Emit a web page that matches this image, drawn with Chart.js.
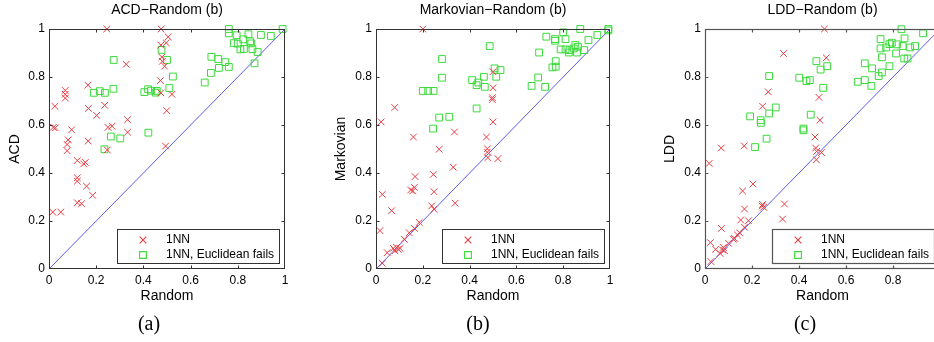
<!DOCTYPE html>
<html>
<head>
<meta charset="utf-8">
<script src="https://cdn.jsdelivr.net/npm/chart.js@4/dist/chart.umd.min.js"></script>
<style>
html,body{margin:0;padding:0;background:#fff;overflow:hidden;width:934px;height:342px;position:relative}
canvas{position:absolute;top:0}
</style>
</head>
<body>
<canvas id="ca" width="320" height="342" style="left:0px;width:320px;height:342px"></canvas>
<canvas id="cb" width="310" height="342" style="left:320px;width:310px;height:342px"></canvas>
<canvas id="cc" width="320" height="342" style="left:630px;width:320px;height:342px"></canvas>
<script>
// ---------- data ----------
const tickValues = [0, 0.2, 0.4, 0.6, 0.8, 1];
const tickLabels = ['0', '0.2', '0.4', '0.6', '0.8', '1'];
const seriesNames = ['1NN', '1NN, Euclidean fails'];
const xAxisTitle = 'Random';
const panelTitles = ['ACD\u2212Random (b)', 'Markovian\u2212Random (b)', 'LDD\u2212Random (b)'];
const yAxisTitles = ['ACD', 'Markovian', 'LDD'];
const captions = ['(a)', '(b)', '(c)'];
const diagonal = [[0, 0], [1, 1]];

const acd1NN = [[0.245,1.0],[0.475,1.0],[0.505,0.967],[0.497,0.942],[0.474,0.933],[0.478,0.883],[0.48,0.865],[0.49,0.845],[0.327,0.853],[0.472,0.785],[0.165,0.766],[0.069,0.744],[0.069,0.728],[0.069,0.712],[0.025,0.678],[0.167,0.669],[0.236,0.682],[0.202,0.64],[0.474,0.734],[0.521,0.728],[0.499,0.66],[0.333,0.622],[0.018,0.59],[0.027,0.588],[0.25,0.59],[0.267,0.595],[0.096,0.58],[0.333,0.57],[0.081,0.538],[0.077,0.519],[0.077,0.493],[0.166,0.533],[0.494,0.512],[0.247,0.496],[0.12,0.452],[0.147,0.438],[0.154,0.444],[0.12,0.38],[0.12,0.366],[0.159,0.345],[0.185,0.307],[0.12,0.276],[0.138,0.272],[0.016,0.237],[0.05,0.237]];
const acdEuclidFails = [[0.762,1.0],[0.762,0.982],[0.795,0.974],[0.845,0.978],[0.898,0.975],[0.94,0.971],[0.99,1.0],[0.823,0.957],[0.852,0.949],[0.857,0.94],[0.783,0.941],[0.8,0.939],[0.811,0.915],[0.826,0.917],[0.862,0.916],[0.884,0.904],[0.871,0.857],[0.688,0.884],[0.717,0.875],[0.747,0.862],[0.72,0.838],[0.762,0.842],[0.686,0.817],[0.66,0.777],[0.477,0.913],[0.5,0.871],[0.525,0.802],[0.51,0.754],[0.274,0.871],[0.273,0.751],[0.19,0.734],[0.215,0.741],[0.237,0.734],[0.404,0.737],[0.42,0.749],[0.432,0.743],[0.452,0.735],[0.457,0.742],[0.421,0.568],[0.262,0.552],[0.302,0.544],[0.235,0.499]];

const markov1NN = [[0.2,1.0],[0.5,0.822],[0.5,0.755],[0.497,0.714],[0.497,0.706],[0.5,0.613],[0.08,0.673],[0.022,0.613],[0.16,0.55],[0.335,0.571],[0.472,0.55],[0.27,0.499],[0.476,0.501],[0.476,0.487],[0.478,0.464],[0.521,0.46],[0.33,0.424],[0.167,0.385],[0.245,0.394],[0.148,0.329],[0.157,0.325],[0.164,0.34],[0.248,0.322],[0.027,0.311],[0.338,0.274],[0.238,0.263],[0.248,0.249],[0.067,0.243],[0.185,0.194],[0.164,0.169],[0.142,0.151],[0.121,0.124],[0.017,0.16],[0.074,0.086],[0.088,0.09],[0.081,0.076],[0.095,0.082],[0.103,0.086],[0.048,0.068],[0.027,0.024]];
const markovEuclidFails = [[0.993,1.0],[0.993,0.994],[0.873,1.0],[0.8,0.986],[0.946,0.975],[0.728,0.968],[0.765,0.958],[0.765,0.951],[0.81,0.958],[0.908,0.954],[0.697,0.902],[0.789,0.915],[0.81,0.915],[0.827,0.912],[0.852,0.933],[0.863,0.926],[0.845,0.919],[0.824,0.902],[0.859,0.902],[0.89,0.912],[0.768,0.866],[0.768,0.843],[0.754,0.84],[0.693,0.798],[0.723,0.759],[0.665,0.763],[0.486,0.929],[0.507,0.836],[0.532,0.829],[0.514,0.801],[0.411,0.787],[0.437,0.777],[0.461,0.801],[0.43,0.766],[0.465,0.759],[0.43,0.669],[0.282,0.875],[0.282,0.797],[0.2,0.742],[0.223,0.742],[0.246,0.742],[0.27,0.631],[0.313,0.634],[0.244,0.585]];

const ldd1NN = [[0.508,1.0],[0.334,0.898],[0.516,0.88],[0.269,0.738],[0.485,0.715],[0.245,0.678],[0.489,0.62],[0.069,0.504],[0.167,0.513],[0.468,0.55],[0.471,0.504],[0.475,0.49],[0.496,0.485],[0.474,0.455],[0.018,0.44],[0.204,0.354],[0.16,0.325],[0.168,0.25],[0.245,0.269],[0.249,0.257],[0.243,0.262],[0.338,0.271],[0.33,0.208],[0.152,0.204],[0.185,0.201],[0.168,0.174],[0.147,0.151],[0.138,0.142],[0.125,0.128],[0.121,0.124],[0.07,0.169],[0.023,0.11],[0.045,0.082],[0.078,0.09],[0.075,0.079],[0.064,0.065],[0.082,0.077],[0.1,0.107],[0.025,0.031]];
const lddEuclidFails = [[0.836,0.999],[0.747,0.958],[0.849,0.961],[0.795,0.943],[0.785,0.937],[0.817,0.936],[0.928,0.982],[0.771,0.923],[0.747,0.919],[0.841,0.929],[0.813,0.898],[0.873,0.923],[0.894,0.929],[0.753,0.882],[0.68,0.857],[0.711,0.836],[0.785,0.845],[0.848,0.877],[0.862,0.877],[0.753,0.819],[0.739,0.804],[0.65,0.78],[0.68,0.787],[0.708,0.763],[0.474,0.866],[0.492,0.831],[0.52,0.845],[0.401,0.797],[0.432,0.783],[0.446,0.787],[0.503,0.755],[0.273,0.804],[0.301,0.673],[0.273,0.648],[0.45,0.643],[0.237,0.62],[0.238,0.609],[0.192,0.636],[0.419,0.585],[0.419,0.578],[0.262,0.543],[0.213,0.508]];

// ---------- style / layout ----------
const FONT = "'Liberation Sans', Arial, Helvetica, sans-serif";
const RED = '#e83c40';
const GREEN = '#3bda3b';
const BLUE = '#3030ee';
const seriesColors = [RED, GREEN];
const seriesStyles = ['crossRot', 'rect'];
const seriesRadii = [4.7, 4.8];
const toPts = arr => arr.map(p => ({x: p[0], y: p[1]}));

const panels = [
  {id: 'ca', left: 0, width: 320, areaLeft: 49, areaRight: 285, yTitleX: 15, captionX: 149, red: acd1NN, green: acdEuclidFails, frame: '#333', frameW: 1},
  {id: 'cb', left: 320, width: 310, areaLeft: 376, areaRight: 610, yTitleX: 341, captionX: 478, red: markov1NN, green: markovEuclidFails, frame: '#333', frameW: 1},
  {id: 'cc', left: 630, width: 320, areaLeft: 705, areaRight: 940, yTitleX: 670, captionX: 805, red: ldd1NN, green: lddEuclidFails, frame: '#555', frameW: 1.2}
];
const AREA_TOP = 29, AREA_BOTTOM = 269, H = 342;

function legendMarker(ctx, i, cx, cy) {
  ctx.save();
  ctx.beginPath();
  ctx.lineWidth = 1.1;
  ctx.strokeStyle = seriesColors[i];
  if (seriesStyles[i] === 'crossRot') {
    const d = seriesRadii[i] * Math.SQRT1_2;
    ctx.moveTo(cx - d, cy - d); ctx.lineTo(cx + d, cy + d);
    ctx.moveTo(cx + d, cy - d); ctx.lineTo(cx - d, cy + d);
  } else {
    const s = seriesRadii[i] * Math.SQRT1_2;
    ctx.rect(cx - s, cy - s, 2 * s, 2 * s);
  }
  ctx.stroke();
  ctx.restore();
}

const matlabFrame = {
  id: 'matlabFrame',
  afterDatasetsDraw(chart, args, o) {
    const {ctx, chartArea: a} = chart;
    const xs = chart.scales.x, ys = chart.scales.y;
    ctx.save();
    ctx.strokeStyle = o.frameColor;
    ctx.lineWidth = o.frameWidth;
    const L = Math.round(a.left) + 0.5, R = Math.round(a.right) - 0.5;
    const T = Math.round(a.top) + 0.5, B = Math.round(a.bottom) - 0.5;
    ctx.strokeRect(L, T, R - L, B - T);
    const tl = 3;
    ctx.beginPath();
    tickValues.forEach(v => {
      if (v === 0 || v === 1) return;
      const px = Math.round(xs.getPixelForValue(v)) + 0.5;
      ctx.moveTo(px, B); ctx.lineTo(px, B - tl);
      ctx.moveTo(px, T); ctx.lineTo(px, T + tl);
      const py = Math.round(ys.getPixelForValue(v)) + 0.5;
      ctx.moveTo(L, py); ctx.lineTo(L + tl, py);
      ctx.moveTo(R, py); ctx.lineTo(R - tl, py);
    });
    ctx.stroke();
    // legend box inside the axes
    const lw = 162, lh = 34;
    const lx = Math.round(a.right - 6 - lw) + 0.5, ly = Math.round(a.bottom - 6 - lh) + 0.5;
    ctx.fillStyle = '#fff';
    ctx.fillRect(lx, ly, lw, lh);
    ctx.strokeRect(lx, ly, lw, lh);
    ctx.font = '12px ' + FONT;
    ctx.textBaseline = 'middle';
    ctx.textAlign = 'left';
    [0, 1].forEach(i => {
      const my = ly + 10 + 15 * i;
      legendMarker(ctx, i, lx + 25.5, my + 0.5);
      ctx.fillStyle = '#000';
      ctx.fillText(seriesNames[i], lx + 48.5, my);
    });
    // sub-figure caption
    ctx.font = "20px 'Liberation Serif', 'Times New Roman', serif";
    ctx.textAlign = 'center';
    ctx.fillStyle = '#000';
    ctx.fillText(o.caption, o.captionX, 325);
    ctx.restore();
  }
};

panels.forEach((p, k) => {
  const axisFont = {family: FONT, size: 14, weight: 'normal'};
  const tickFont = {family: FONT, size: 12, weight: 'normal'};
  new Chart(document.getElementById(p.id), {
    type: 'scatter',
    data: {
      datasets: [
        {label: seriesNames[0], data: toPts(p.red), pointStyle: seriesStyles[0], pointRadius: seriesRadii[0], pointHoverRadius: seriesRadii[0],
         borderColor: seriesColors[0], backgroundColor: 'rgba(0,0,0,0)', borderWidth: 1, clip: false},
        {label: seriesNames[1], data: toPts(p.green), pointStyle: seriesStyles[1], pointRadius: seriesRadii[1], pointHoverRadius: seriesRadii[1],
         borderColor: seriesColors[1], backgroundColor: 'rgba(0,0,0,0)', borderWidth: 1, clip: false},
        {label: 'diag', data: toPts(diagonal), showLine: true, borderColor: BLUE, borderWidth: 0.8,
         pointRadius: 0, fill: false}
      ]
    },
    options: {
      responsive: false,
      animation: false,
      devicePixelRatio: 1,
      events: [],
      layout: {padding: {left: 0, top: 0, bottom: 0, right: p.width - (p.areaRight - p.left)}},
      plugins: {
        legend: {display: false},
        tooltip: {enabled: false},
        title: {display: true, text: panelTitles[k], fullSize: false, color: '#000',
                font: axisFont, padding: {top: 2, bottom: AREA_TOP - 2 - 16.8}},
        matlabFrame: {frameColor: p.frame, frameWidth: p.frameW, caption: captions[k], captionX: p.captionX - p.left}
      },
      scales: {
        x: {
          type: 'linear', min: 0, max: 1,
          afterBuildTicks: s => { s.ticks = tickValues.map(v => ({value: v})); },
          afterFit: s => { s.height = H - AREA_BOTTOM; },
          ticks: {callback: (v, i) => tickLabels[i], font: tickFont, color: '#000', padding: 4, maxRotation: 0, autoSkip: false},
          grid: {display: false, drawTicks: false},
          border: {display: false},
          title: {display: true, text: xAxisTitle, color: '#000', font: axisFont,
                  padding: {top: 0, bottom: H - 296 - 8.4}}
        },
        y: {
          type: 'linear', min: 0, max: 1,
          afterBuildTicks: s => { s.ticks = tickValues.map(v => ({value: v})); },
          afterFit: s => { s.width = p.areaLeft - p.left; },
          ticks: {callback: (v, i) => tickLabels[i], font: tickFont, color: '#000', padding: 4, autoSkip: false},
          grid: {display: false, drawTicks: false},
          border: {display: false},
          title: {display: true, text: yAxisTitles[k], color: '#000', font: axisFont,
                  padding: {top: (p.yTitleX - p.left) - 8.4, bottom: 0}}
        }
      }
    },
    plugins: [matlabFrame]
  });
});
</script>
</body>
</html>
